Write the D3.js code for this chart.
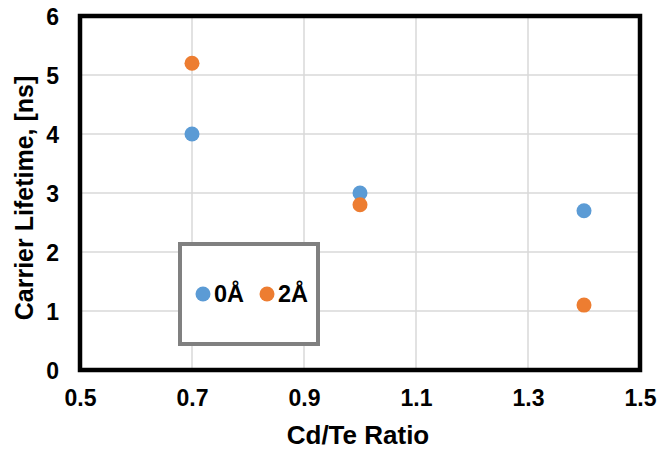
<!DOCTYPE html>
<html><head><meta charset="utf-8">
<script src="https://cdn.jsdelivr.net/npm/d3@7"></script>
<style>body{margin:0;background:#fff}svg{display:block}text{font-family:Arial,"Liberation Sans",sans-serif;font-weight:bold;fill:#000}</style>
</head><body>
<script>
const seriesNames = ["0Å", "2Å"];
const seriesColors = ["#5B9BD5", "#ED7D31"];
const ratio0 = [0.7, 1.0, 1.4];
const life0 = [4.0, 3.0, 2.7];
const ratio2 = [0.7, 1.0, 1.4];
const life2 = [5.2, 2.8, 1.1];
const xTicks = [0.5, 0.7, 0.9, 1.1, 1.3, 1.5];
const yTicks = [0, 1, 2, 3, 4, 5, 6];
const xTitle = "Cd/Te Ratio";
const yTitle = "Carrier Lifetime, [ns]";

const W = 657, H = 449;
const m = {left: 80, top: 16, right: 17, bottom: 79};
const svg = d3.select("body").append("svg").attr("width", W).attr("height", H);
const x = d3.scaleLinear().domain([0.5, 1.5]).range([m.left, W - m.right]);
const y = d3.scaleLinear().domain([0, 6]).range([H - m.bottom, m.top]);

// gridlines
svg.append("g").selectAll("line.v").data(xTicks.slice(1, -1)).join("line")
  .attr("x1", d => x(d)).attr("x2", d => x(d)).attr("y1", y(0)).attr("y2", y(6))
  .attr("stroke", "#D9D9D9").attr("stroke-width", 1.5);
svg.append("g").selectAll("line.h").data(yTicks.slice(1, -1)).join("line")
  .attr("y1", d => y(d)).attr("y2", d => y(d)).attr("x1", x(0.5)).attr("x2", x(1.5))
  .attr("stroke", "#D9D9D9").attr("stroke-width", 1.5);

// axes (labels only)
const xAxis = svg.append("g").attr("transform", `translate(0,${y(0)})`)
  .call(d3.axisBottom(x).tickValues(xTicks).tickFormat(d3.format(".1f")).tickSize(0).tickPadding(36));
const yAxis = svg.append("g").attr("transform", `translate(${x(0.5)},0)`)
  .call(d3.axisLeft(y).tickValues(yTicks).tickFormat(d3.format("d")).tickSize(0).tickPadding(21));
[xAxis, yAxis].forEach(a => {
  a.select(".domain").remove();
  a.selectAll("text").style("font-size", "23px").style("font-family", "Arial, 'Liberation Sans', sans-serif").style("font-weight", "bold").attr("fill", "#000");
});
xAxis.selectAll("text").attr("dy", null).attr("y", 36);
yAxis.selectAll("text").attr("dy", "0.35em");

// plot border
svg.append("rect").attr("x", x(0.5)).attr("y", y(6)).attr("width", x(1.5) - x(0.5)).attr("height", y(0) - y(6))
  .attr("fill", "none").attr("stroke", "#000").attr("stroke-width", 4.5);

// points
const series = [
  {name: seriesNames[0], color: seriesColors[0], xs: ratio0, ys: life0},
  {name: seriesNames[1], color: seriesColors[1], xs: ratio2, ys: life2}
];
series.forEach(s => {
  svg.append("g").selectAll("circle").data(s.xs.map((v, i) => [v, s.ys[i]])).join("circle")
    .attr("cx", d => x(d[0])).attr("cy", d => y(d[1])).attr("r", 7.5).attr("fill", s.color);
});

// titles
svg.append("text").attr("x", (x(0.5) + x(1.5)) / 2 - 2).attr("y", 444).attr("text-anchor", "middle")
  .style("font-size", "26px").text(xTitle);
svg.append("text").attr("transform", `translate(33,${(y(0) + y(6)) / 2 + 5}) rotate(-90)`).attr("text-anchor", "middle")
  .style("font-size", "25px").text(yTitle);

// legend
const lg = svg.append("g");
lg.append("rect").attr("x", 180).attr("y", 244).attr("width", 138).attr("height", 100)
  .attr("fill", "#fff").attr("stroke", "#808080").attr("stroke-width", 4);
const lx = [203, 267];
series.forEach((s, i) => {
  lg.append("circle").attr("cx", lx[i]).attr("cy", 294).attr("r", 7.5).attr("fill", s.color);
  lg.append("text").attr("x", lx[i] + 11).attr("y", 302).style("font-size", "23.5px").text(s.name);
});
</script>
</body></html>
